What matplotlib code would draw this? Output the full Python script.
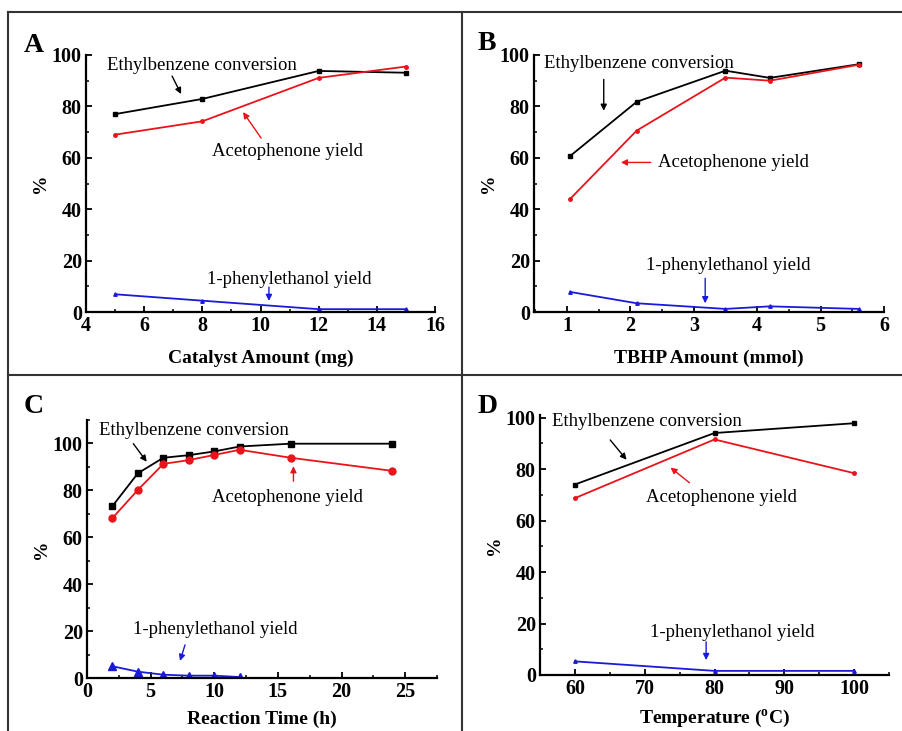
import numpy as np
import matplotlib
matplotlib.use("Agg")
import matplotlib.pyplot as plt
from matplotlib.lines import Line2D
from matplotlib.ticker import MultipleLocator

plt.rcParams['font.family'] = ['Liberation Serif', 'DejaVu Serif']

# Panel A: catalyst amount
cat_mg = [5, 8, 12, 15]
cat_conv = [77.0, 82.9, 93.8, 93.1]
cat_aceto = [69.0, 74.2, 91.1, 95.5]
cat_phen = [6.9, 4.4, 1.1, 1.1]

# Panel B: TBHP amount
tbhp_mmol = [1.05, 2.1, 3.5, 4.2, 5.6]
tbhp_conv = [60.7, 81.8, 93.9, 91.1, 96.4]
tbhp_aceto = [44.0, 70.6, 91.2, 90.0, 96.2]
tbhp_phen = [7.8, 3.4, 1.2, 2.2, 1.2]

# Panel C: reaction time
time_h = [2, 4, 6, 8, 10, 12, 16, 24]
time_conv = [73.3, 87.3, 93.9, 95.0, 96.6, 98.7, 99.9, 99.9]
time_aceto = [68.2, 80.2, 91.3, 92.9, 95.1, 97.3, 93.9, 88.3]
time_h_phen = [2, 4, 6, 8, 10, 12]
time_phen = [5.0, 2.7, 1.4, 1.0, 1.0, 0.4]

# Panel D: temperature
temp_c = [60, 80, 100]
temp_conv = [74.0, 94.0, 97.8]
temp_aceto = [68.7, 91.5, 78.4]
temp_phen = [5.3, 1.6, 1.6]

W, H = 902, 731
fig = plt.figure(figsize=(W / 100, H / 100), dpi=100)


def px_axes(left, right, top, bottom):
    return fig.add_axes([left / W, 1 - bottom / H, (right - left) / W, (bottom - top) / H])


def style(ax, xlim, ylim, xmaj, xmin, ymaj=20, ymin=10):
    ax.set_xlim(*xlim)
    ax.set_ylim(*ylim)
    for s in ['top', 'right']:
        ax.spines[s].set_visible(False)
    for s in ['left', 'bottom']:
        ax.spines[s].set_linewidth(1.6)
    ax.xaxis.set_major_locator(MultipleLocator(xmaj))
    ax.xaxis.set_minor_locator(MultipleLocator(xmin))
    ax.yaxis.set_major_locator(MultipleLocator(ymaj))
    ax.yaxis.set_minor_locator(MultipleLocator(ymin))
    ax.tick_params(which='major', direction='in', length=4, width=1.3,
                   labelsize=14.5, pad=3)
    ax.tick_params(which='minor', direction='in', length=2.5, width=1.1)
    for lab in ax.get_xticklabels() + ax.get_yticklabels():
        lab.set_fontweight('bold')
    ax.set_ylabel('%', fontsize=14, fontweight='bold', labelpad=2)


def arrow(ax, start, end, color):
    ax.annotate('', xy=end, xytext=start,
                arrowprops=dict(arrowstyle='-|>', color=color, lw=1.0,
                                mutation_scale=9, shrinkA=0, shrinkB=0))


def label(ax, x, y, s):
    ax.text(x, y, s, fontsize=13.5, ha='left', va='center')


ms = 2.5
black, red, blue = 'black', '#e8141b', '#1a1adb'
# A
axA = px_axes(86, 435, 55, 312)
axA.plot(cat_mg, cat_conv, '-s', color=black, lw=1.3, ms=ms)
axA.plot(cat_mg, cat_aceto, '-o', color=red, lw=1.3, ms=ms)
axA.plot(cat_mg, cat_phen, '-^', color=blue, lw=1.3, ms=ms)
style(axA, (4, 16), (0, 100), 2, 1)
axA.set_xlabel('Catalyst Amount (mg)', fontsize=14, fontweight='bold', labelpad=10)
label(axA, 4.72, 96.1, 'Ethylbenzene conversion')
arrow(axA, (6.96, 91.8), (7.27, 84.8), black)
label(axA, 8.33, 62.6, 'Acetophenone yield')
arrow(axA, (10.02, 67.7), (9.40, 77.8), red)
label(axA, 8.16, 12.8, '1-phenylethanol yield')
arrow(axA, (10.29, 9.7), (10.29, 4.3), blue)
fig.text(24 / W, 1 - 45 / H, 'A', fontsize=20, fontweight='bold', va='center')

# B
axB = px_axes(534, 884, 55, 312)
axB.plot(tbhp_mmol, tbhp_conv, '-s', color=black, lw=1.3, ms=ms)
axB.plot(tbhp_mmol, tbhp_aceto, '-o', color=red, lw=1.3, ms=ms)
axB.plot(tbhp_mmol, tbhp_phen, '-^', color=blue, lw=1.3, ms=ms)
style(axB, (0.48, 6), (0, 100), 1, 0.5)
axB.set_xlabel('TBHP Amount (mmol)', fontsize=14, fontweight='bold', labelpad=10)
label(axB, 0.63, 96.8, 'Ethylbenzene conversion')
arrow(axB, (1.58, 90.5), (1.58, 78.3), black)
label(axB, 2.43, 58.2, 'Acetophenone yield')
arrow(axB, (2.32, 58.2), (1.85, 58.2), red)
label(axB, 2.24, 18.0, '1-phenylethanol yield')
arrow(axB, (3.18, 13.1), (3.18, 3.4), blue)
fig.text(478 / W, 1 - 43 / H, 'B', fontsize=20, fontweight='bold', va='center')

# C
axC = px_axes(87, 437, 420, 678)
axC.plot(time_h, time_conv, '-s', color=black, lw=1.3, ms=4.5)
axC.plot(time_h, time_aceto, '-o', color=red, lw=1.3, ms=5)
axC.plot(time_h_phen, time_phen, '-^', color=blue, lw=1.3, ms=6)
style(axC, (0, 27.5), (0, 110), 5, 2.5)
axC.set_xlabel('Reaction Time (h)', fontsize=14, fontweight='bold', labelpad=6)
label(axC, 0.94, 105.7, 'Ethylbenzene conversion')
arrow(axC, (3.64, 99.9), (4.69, 92.2), black)
label(axC, 9.85, 76.8, 'Acetophenone yield')
arrow(axC, (16.22, 83.9), (16.22, 90.3), red)
label(axC, 3.59, 20.5, '1-phenylethanol yield')
arrow(axC, (7.70, 14.1), (7.31, 7.3), blue)
fig.text(24 / W, 1 - 407 / H, 'C', fontsize=20, fontweight='bold', va='center')

# D
axD = px_axes(540, 889, 415, 675)
axD.plot(temp_c, temp_conv, '-s', color=black, lw=1.3, ms=ms)
axD.plot(temp_c, temp_aceto, '-o', color=red, lw=1.3, ms=ms)
axD.plot(temp_c, temp_phen, '-^', color=blue, lw=1.3, ms=ms)
style(axD, (55, 105), (0, 101), 10, 5)
axD.set_xlabel('Temperature ($\\mathregular{^oC}$)', fontsize=14, fontweight='bold', labelpad=6)
label(axD, 56.7, 98.4, 'Ethylbenzene conversion')
arrow(axD, (65.06, 91.3), (67.4, 83.6), black)
label(axD, 70.2, 68.9, 'Acetophenone yield')
arrow(axD, (76.4, 74.7), (73.7, 80.6), red)
label(axD, 70.7, 16.5, '1-phenylethanol yield')
arrow(axD, (78.8, 12.9), (78.8, 5.8), blue)
fig.text(478 / W, 1 - 407 / H, 'D', fontsize=20, fontweight='bold', va='center')

# panel frame lines
frame = [((8, 8), (12, H)), ((8, W), (12, 12)), ((462, 462), (12, H)), ((8, W), (375, 375))]
for xs, ys in frame:
    fig.add_artist(Line2D([x / W for x in xs], [1 - y / H for y in ys],
                          color='#333333', lw=1.5, transform=fig.transFigure))

fig.savefig('out.png', dpi=100)
